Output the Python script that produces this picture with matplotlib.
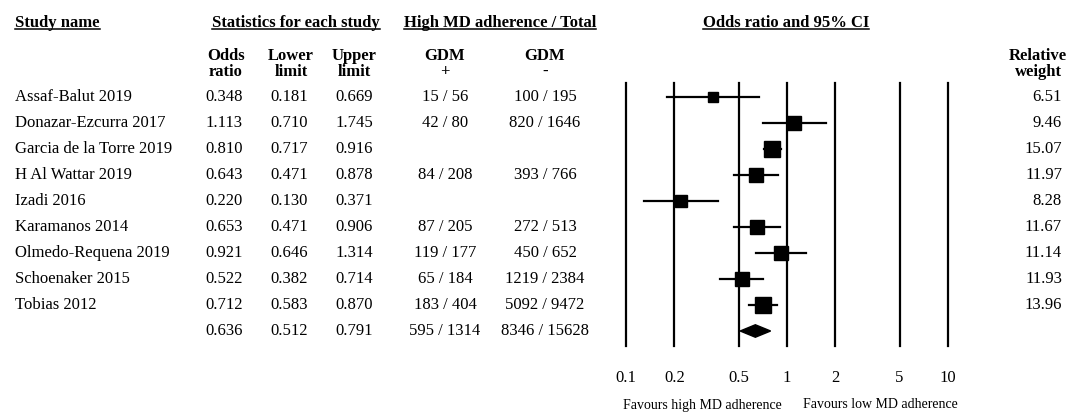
import matplotlib
matplotlib.use("Agg")
import matplotlib.pyplot as plt
from matplotlib.lines import Line2D
from matplotlib.transforms import blended_transform_factory
import numpy as np

plt.rcParams['font.family'] = ['Liberation Serif', 'DejaVu Serif']

# ---- データ ----
studies = ["Assaf-Balut 2019", "Donazar-Ezcurra 2017", "Garcia de la Torre 2019",
           "H Al Wattar 2019", "Izadi 2016", "Karamanos 2014",
           "Olmedo-Requena 2019", "Schoenaker 2015", "Tobias 2012"]
odds = [0.348, 1.113, 0.810, 0.643, 0.220, 0.653, 0.921, 0.522, 0.712]
lower = [0.181, 0.710, 0.717, 0.471, 0.130, 0.471, 0.646, 0.382, 0.583]
upper = [0.669, 1.745, 0.916, 0.878, 0.371, 0.906, 1.314, 0.714, 0.870]
gdm_pos = ["15 / 56", "42 / 80", "", "84 / 208", "", "87 / 205",
           "119 / 177", "65 / 184", "183 / 404"]
gdm_neg = ["100 / 195", "820 / 1646", "", "393 / 766", "", "272 / 513",
           "450 / 652", "1219 / 2384", "5092 / 9472"]
weights = [6.51, 9.46, 15.07, 11.97, 8.28, 11.67, 11.14, 11.93, 13.96]

pooled_or, pooled_lo, pooled_hi = 0.636, 0.512, 0.791
pooled_pos, pooled_neg = "595 / 1314", "8346 / 15628"

ticks = [0.1, 0.2, 0.5, 1, 2, 5, 10]
tick_labels = ["0.1", "0.2", "0.5", "1", "2", "5", "10"]

# ---- レイアウト（ピクセル基準）----
FW, FH = 1072, 412
def fx(px): return px / FW
def fy(py): return 1 - py / FH

FS = 12

fig = plt.figure(figsize=(FW / 100, FH / 100), dpi=100)
fig.patch.set_facecolor('white')

# フォレストプロット部分
ax_l, ax_r, ax_t, ax_b = 626, 948, 83, 346
ax = fig.add_axes([fx(ax_l), fy(ax_b), fx(ax_r - ax_l), (ax_b - ax_t) / FH])
ax.set_xscale('log')
ax.set_xlim(0.1, 10)
n = len(studies)
row_h = 26
ax.set_ylim((ax_b - 97) / row_h, (ax_t - 97) / row_h)
for s in ax.spines.values():
    s.set_visible(False)
ax.set_yticks([])
ax.set_xticks(ticks)
ax.set_xticklabels(tick_labels, fontsize=FS)
ax.xaxis.set_minor_locator(matplotlib.ticker.NullLocator())
ax.tick_params(axis='x', length=0, pad=17)
ax.patch.set_alpha(0)

for t in ticks:
    ax.axvline(t, color='black', lw=1.6, clip_on=False, zorder=1)

rows = np.arange(n)
for i in range(n):
    ax.plot([lower[i], upper[i]], [rows[i], rows[i]], color='black', lw=1.6,
            clip_on=False, zorder=2)
    ax.plot(odds[i], rows[i], marker='s', color='black',
            markersize=3.1 * np.sqrt(weights[i]), clip_on=False, zorder=3)

# 統合推定値のダイヤ
dh = 0.24
ax.fill([pooled_lo, pooled_or, pooled_hi, pooled_or],
        [n, n - dh, n, n + dh], color='black', zorder=3, clip_on=False)

# ---- 表部分 ----
tr = blended_transform_factory(fig.transFigure, ax.transData)
col_name = fx(15)
col_or, col_lo, col_hi = fx(224), fx(289), fx(354)
col_pos, col_neg = fx(445), fx(545)
col_w = fx(1062)

for i in range(n):
    y = rows[i]
    fig.text(col_name, y, studies[i], transform=tr, ha='left', va='center', fontsize=FS)
    fig.text(col_or, y, f"{odds[i]:.3f}", transform=tr, ha='center', va='center', fontsize=FS)
    fig.text(col_lo, y, f"{lower[i]:.3f}", transform=tr, ha='center', va='center', fontsize=FS)
    fig.text(col_hi, y, f"{upper[i]:.3f}", transform=tr, ha='center', va='center', fontsize=FS)
    fig.text(col_pos, y, gdm_pos[i], transform=tr, ha='center', va='center', fontsize=FS)
    fig.text(col_neg, y, gdm_neg[i], transform=tr, ha='center', va='center', fontsize=FS)
    fig.text(col_w, y, f"{weights[i]:.2f}", transform=tr, ha='right', va='center', fontsize=FS)

fig.text(col_or, n, f"{pooled_or:.3f}", transform=tr, ha='center', va='center', fontsize=FS)
fig.text(col_lo, n, f"{pooled_lo:.3f}", transform=tr, ha='center', va='center', fontsize=FS)
fig.text(col_hi, n, f"{pooled_hi:.3f}", transform=tr, ha='center', va='center', fontsize=FS)
fig.text(col_pos, n, pooled_pos, transform=tr, ha='center', va='center', fontsize=FS)
fig.text(col_neg, n, pooled_neg, transform=tr, ha='center', va='center', fontsize=FS)

# 見出し（下線付き）
hy = fy(23)
titles = [
    fig.text(col_name, hy, "Study name", ha='left', va='center', fontsize=FS, weight='bold'),
    fig.text(fx(296), hy, "Statistics for each study", ha='center', va='center', fontsize=FS, weight='bold'),
    fig.text(fx(500), hy, "High MD adherence / Total", ha='center', va='center', fontsize=FS, weight='bold'),
    fig.text(fx(786), hy, "Odds ratio and 95% CI", ha='center', va='center', fontsize=FS, weight='bold'),
]

# 2段の列見出し
sy = fy(64)
kw = dict(ha='center', va='center', fontsize=FS, weight='bold', linespacing=1.05)
fig.text(fx(226), sy, "Odds\nratio", **kw)
fig.text(fx(291), sy, "Lower\nlimit", **kw)
fig.text(fx(354), sy, "Upper\nlimit", **kw)
fig.text(fx(445), sy, "GDM\n+", **kw)
fig.text(fx(545), sy, "GDM\n-", **kw)
fig.text(fx(1038), sy, "Relative\nweight", **kw)

# 軸下の注記
fig.text(fx(782), fy(405), "Favours high MD adherence", ha='right', va='center', fontsize=10)
fig.text(fx(803), fy(405), "Favours low MD adherence", ha='left', va='center', fontsize=10)

# 下線を描く
fig.canvas.draw()
renderer = fig.canvas.get_renderer()
inv = fig.transFigure.inverted()
for t in titles:
    bb = t.get_window_extent(renderer)
    y = bb.y0 + 2
    (x0, y0), (x1, y1) = inv.transform([(bb.x0, y), (bb.x1, y)])
    fig.add_artist(Line2D([x0, x1], [y0, y1], color='black', lw=1.1))

fig.savefig("out.png", dpi=100, facecolor='white')
